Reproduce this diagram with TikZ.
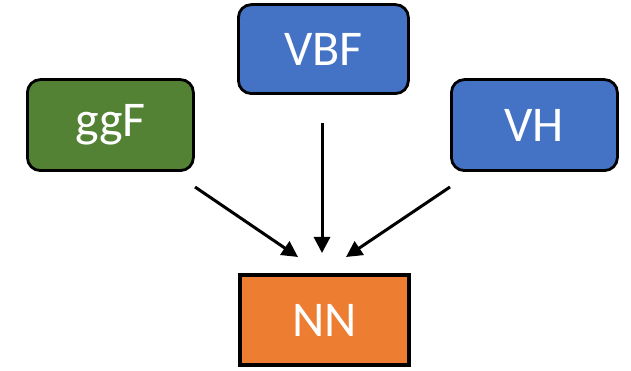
\documentclass[tikz,border=0pt]{standalone}
\usepackage{fontspec}
\setmainfont{Carlito}
\usetikzlibrary{arrows.meta}
\definecolor{boxblue}{HTML}{4472C4}
\definecolor{boxgreen}{HTML}{548235}
\definecolor{boxorange}{HTML}{ED7D31}
\tikzset{
  rbox/.style={draw=black, line width=2.8pt, rounded corners=13pt, text=white,
    font=\fontsize{50}{60}\selectfont, inner sep=0pt, anchor=south west},
  nnbox/.style={draw=black, line width=4pt, fill=boxorange, text=white,
    font=\fontsize{50}{60}\selectfont, inner sep=0pt, anchor=south west},
  conn/.style={line width=3pt, -{Triangle[length=16pt,width=16pt]}}
}
\begin{document}
\begin{tikzpicture}[x=1pt,y=1pt]
\useasboundingbox (0,0) rectangle (631,371);
% boxes (y = 371 - pixel y)
\node[rbox, fill=boxblue, minimum width=170pt, minimum height=89pt] (VBF) at (237,276) {VBF};
\node[rbox, fill=boxgreen, minimum width=166pt, minimum height=91pt] (ggF) at (26,199) {ggF};
\node[rbox, fill=boxblue, minimum width=166pt, minimum height=91pt] (VH) at (450,199) {VH};
\node[nnbox, minimum width=169pt, minimum height=90pt] (NN) at (238,4) {NN};
% connector ends
\coordinate (s1) at (195,184);
\coordinate (t1) at (298,114);
\coordinate (s2) at (322,248);
\coordinate (t2) at (322,118);
\coordinate (s3) at (450,184);
\coordinate (t3) at (346,114);
\draw[conn] (s1) -- (t1);
\draw[conn] (s2) -- (t2);
\draw[conn] (s3) -- (t3);
\end{tikzpicture}
\end{document}
